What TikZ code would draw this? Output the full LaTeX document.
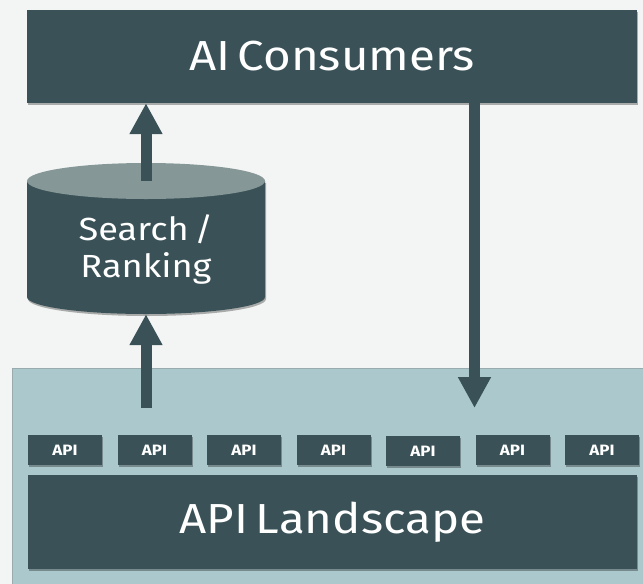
\documentclass[tikz,border=0pt]{standalone}
\usepackage{fontspec}
\setmainfont{Fira Sans}[FakeStretch=1.13, WordSpace=0.6]
\usetikzlibrary{arrows.meta,shadows}
\definecolor{dark}{HTML}{3A5257}
\definecolor{bgc}{HTML}{F3F5F4}
\definecolor{lightblue}{HTML}{ABC8CC}
\definecolor{cyltop}{HTML}{869798}
\definecolor{edge}{HTML}{9AABAE}
\tikzset{
  shd/.style={drop shadow={shadow xshift=1pt, shadow yshift=-2pt, opacity=.3, fill=black}},
  darkbox/.style={fill=dark, shd, text=white, inner sep=0pt},
  apibox/.style={darkbox, minimum width=74pt, minimum height=30pt, font=\bfseries\fontsize{15}{17}\selectfont},
  bigtext/.style={font=\fontsize{42}{48}\selectfont},
  thickarrow/.style={draw=dark, line width=11pt, -{Triangle[width=31pt,length=31pt]}},
}
\begin{document}
\begin{tikzpicture}[x=1pt,y=-1pt]
\fill[bgc] (0,0) rectangle (643,584);
\useasboundingbox (0,0) rectangle (643,584);
% API landscape area
\fill[lightblue] (12,368) rectangle (643,584);
\draw[edge, line width=0.8pt] (12,584) -- (12,368) -- (643,368);
% AI consumers
\node[darkbox, bigtext, minimum width=610pt, minimum height=93pt] (ai) at (332,56.5) {AI Consumers};
% cylinder
\path[fill=dark, shd] (27,181) -- (27,297) arc[start angle=180, end angle=0, x radius=119, y radius=17] -- (265,181) -- cycle;
\fill[cyltop] (146,181) ellipse[x radius=119, y radius=18];
\node[minimum width=238pt, minimum height=151pt, inner sep=0pt] (cyl) at (146,238.5) {};
\node[text=white, align=center, font=\fontsize{32}{37}\selectfont] (search) at (146,249) {Search /\\Ranking};
% API landscape box
\node[darkbox, bigtext, minimum width=609pt, minimum height=94pt] (land) at (332.5,522) {API Landscape};
% API boxes
\foreach \i in {0,...,6} {
  \pgfmathsetmacro{\xx}{65+89.5*\i}
  \pgfmathsetmacro{\yy}{\i==4 ? 451 : 450}
  \node[apibox] (api\i) at (\xx,\yy) {API};
}
% arrows
\coordinate (upstart) at (146,408);
\coordinate (downend) at (474.5,408);
\draw[thickarrow] (upstart) -- (cyl.south);
\draw[thickarrow] ([yshift=-18pt]cyl.north) -- (ai.south -| cyl.north);
\draw[thickarrow] (ai.south -| downend) -- (downend);
\end{tikzpicture}
\end{document}
